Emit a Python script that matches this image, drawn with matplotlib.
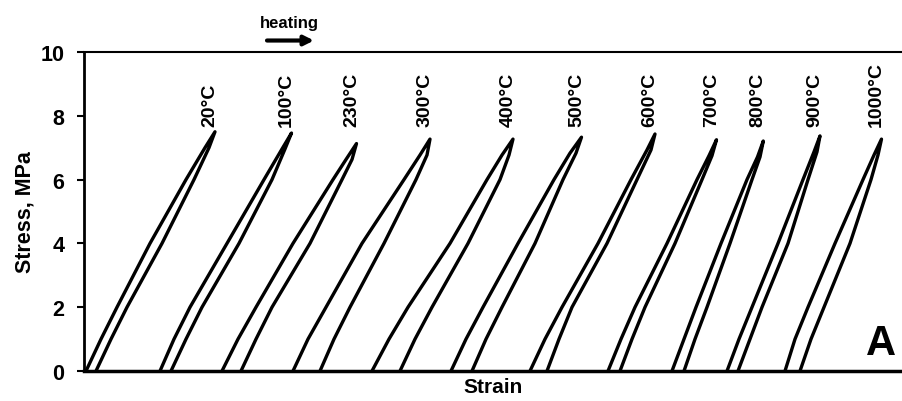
import numpy as np
import matplotlib.pyplot as plt
import matplotlib as mpl

mpl.rcParams['font.family'] = ['Liberation Sans', 'DejaVu Sans']
mpl.rcParams['font.weight'] = 'bold'

# strain in arbitrary units (loops are shifted along x), stress in MPa
temps = ["20°C", "100°C", "230°C", "300°C", "400°C", "500°C",
         "600°C", "700°C", "800°C", "900°C", "1000°C"]
stress_grid = [0, 1, 2, 4, 6]
load_x = [[2, 17, 33, 66, 102], [76, 90, 106, 143, 180], [138, 154, 172, 209, 249],
          [209, 224, 242, 278, 320], [288, 305, 324, 366, 403], [367, 382, 399, 434, 470],
          [446, 461, 478, 514, 547], [524, 537, 551, 583, 613], [588, 600, 612, 637, 663],
          [643, 655, 668, 694, 719], [701, 711, 724, 751, 779]]
unload_x = [[12, 27, 43, 78, 110], [87, 102, 118, 155, 188], [157, 172, 188, 226, 258],
            [236, 250, 266, 300, 332], [316, 331, 348, 384, 416], [388, 402, 418, 451, 479],
            [463, 475, 488, 523, 553], [536, 548, 561, 591, 618], [600, 611, 623, 646, 668],
            [654, 666, 678, 704, 724], [716, 727, 740, 766, 787]]
peak_x = [131, 207.5, 272.5, 346, 429, 497.5, 571, 632.5, 679.3, 736, 797.5]
peak_s = [7.50, 7.46, 7.13, 7.27, 7.27, 7.33, 7.43, 7.25, 7.21, 7.37, 7.27]
# points 0.5 MPa below the peak on each branch
tip_load_x = [121, 198, 262, 336, 418, 486, 563, 625, 673.5, 730, 790]
tip_unload_x = [125, 201, 268, 343, 425, 492, 567, 628, 676, 733, 794]

fig = plt.figure(figsize=(9.02, 4.02), dpi=100)
ax = fig.add_axes([84/902, 30/402, 1 - 84/902, 319/402])

for i in range(len(temps)):
    ps = peak_s[i]
    x = load_x[i] + [tip_load_x[i], peak_x[i], tip_unload_x[i]] + unload_x[i][::-1]
    s = stress_grid + [ps - 0.5, ps, ps - 0.5] + stress_grid[::-1]
    ax.plot(x, s, color='black', lw=2.4, solid_joinstyle='round', solid_capstyle='round')
    ax.text(peak_x[i] - 5, 7.68, temps[i], rotation=90, ha='center', va='bottom',
            fontsize=14, fontweight='bold')

ax.set_xlim(0, 818)
ax.set_ylim(0, 10)
ax.set_yticks(np.arange(0, 11, 2))
ax.set_xticks([])
ax.tick_params(axis='y', direction='out', length=5, width=1.5, pad=9, labelsize=15.5)
for lab in ax.get_yticklabels():
    lab.set_fontweight('bold')
ax.spines['right'].set_visible(False)
ax.spines['left'].set_linewidth(2)
ax.spines['bottom'].set_linewidth(2.5)
ax.spines['top'].set_linewidth(1.5)

ax.set_ylabel("Stress, MPa", fontsize=15.5, fontweight='bold', labelpad=4)
ax.set_xlabel("Strain", fontsize=15, fontweight='bold', labelpad=4)

ax.text(797, 0.53, "A", fontsize=30, fontweight='bold', ha='center', va='baseline')

ax.text(205, 10.94, "heating", fontsize=12, fontweight='bold', ha='center', va='center',
        clip_on=False)
ax.annotate("", xy=(230, 10.36), xytext=(183, 10.36), annotation_clip=False,
            arrowprops=dict(arrowstyle='-|>', lw=3, color='black', mutation_scale=14,
                            shrinkA=0, shrinkB=0))

plt.savefig("out.png", dpi=100)
